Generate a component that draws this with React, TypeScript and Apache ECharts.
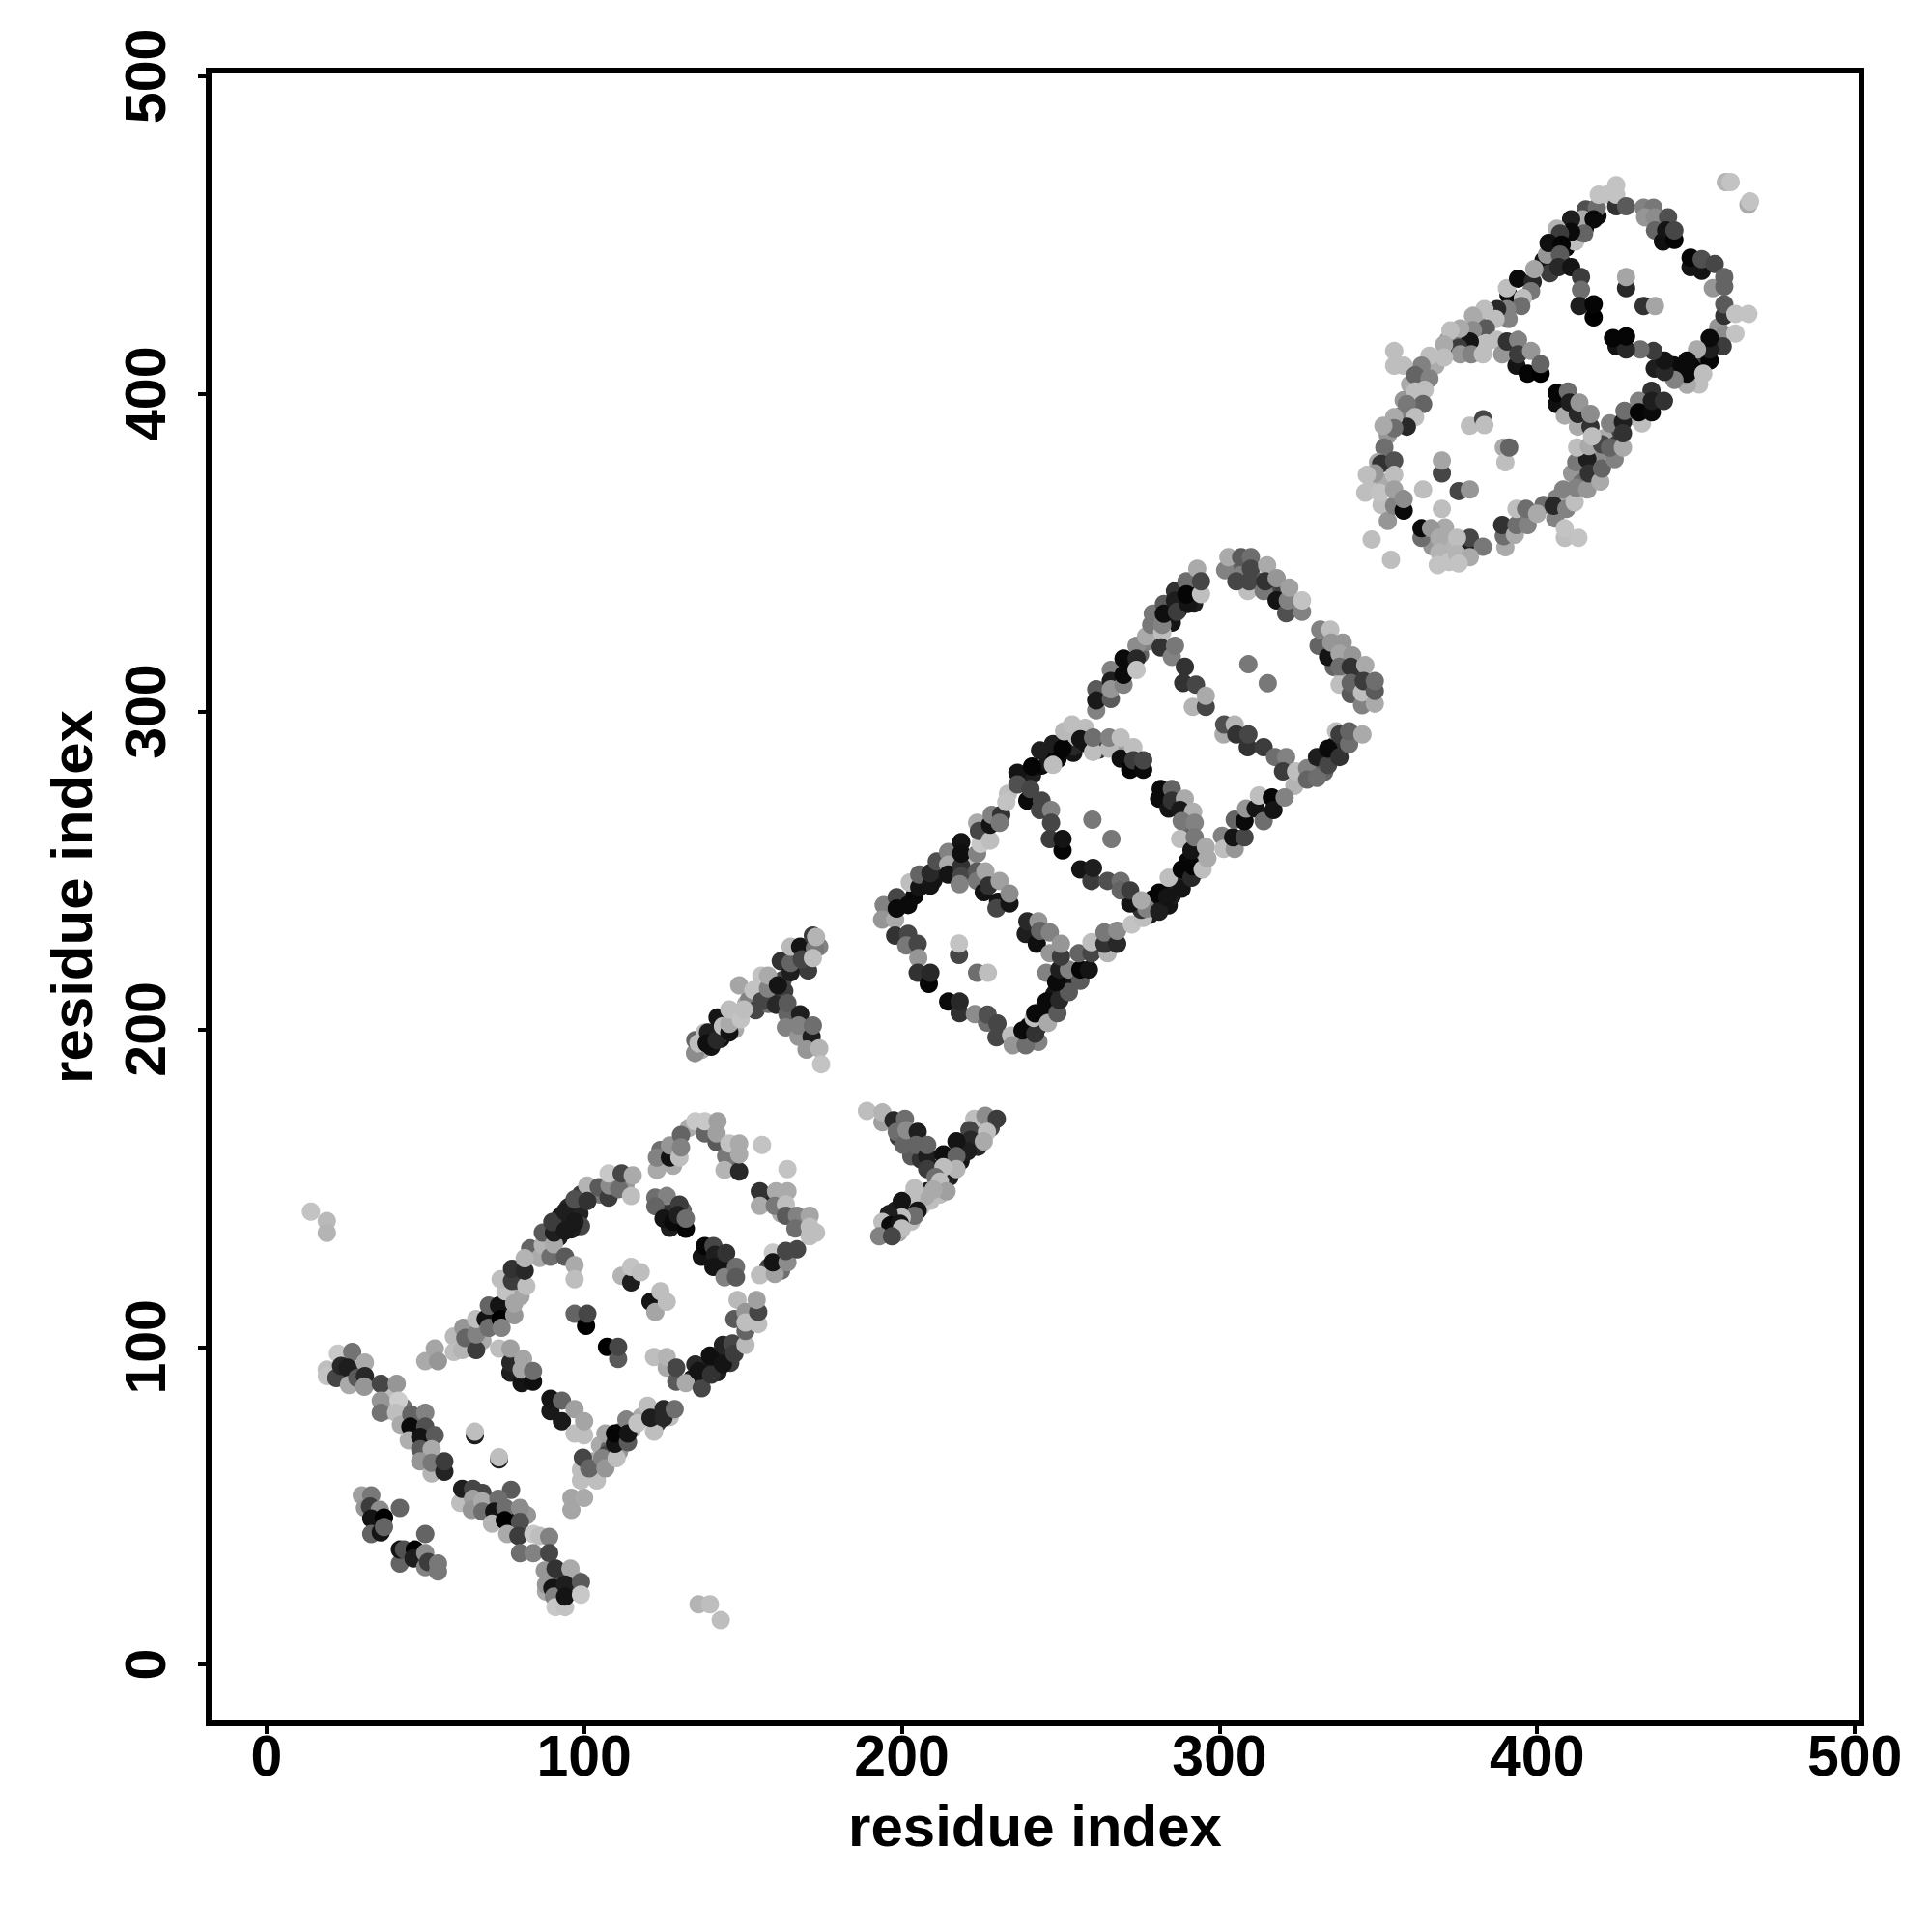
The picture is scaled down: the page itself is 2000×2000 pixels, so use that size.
import React, { useEffect, useRef } from "react";
import * as echarts from "echarts";

const tickValues = [0, 100, 200, 300, 400, 500];
const xTitle = "residue index";
const yTitle = "residue index";

// every contact: [residue i, residue j, grey level]
const outliers = [[14,142.6,195],[19,139.6,185],[19,135.9,180],[136,19,180],[139.6,19,190],[143,14,190],[156,163.6,195],[164,156,195]];
const crossArm = [[22.5,97.9,200],[19,92.9,190],[19,90.8,195],[27,98.4,115],[22,90.2,70],[23.5,94,40],[25.5,93.5,30],[31,95.1,170],[26,88,170],[28.6,90.2,90],[31,90.8,40],[30.8,87.5,150],
[36,88.4,70],[41,88.4,150],[36,83.1,150],[36,79.3,115],[41.6,83.1,205],[40.8,79.3,190],[42.3,75.5,170],[45.6,78.7,100],[50,79.3,130],[45.3,74.9,10],[50,74.9,80],[44.8,70.6,175],[48.4,71.7,20],[53,72.2,90],[48.4,67.8,90],[52,67.8,170],[48.4,64,150],[52,60.2,180],[52,63.5,120],[56,60.7,35],[56,64,60],
[61,50.9,190],[61.6,55.3,30],[65,55.3,70],[65,52.2,160],[64.6,48.7,150],[68,51.4,170],[68,48.2,110],[73,52.2,110],[71.7,48.2,20],[75.2,49.3,110],[79.8,49.3,140],[71,44.4,180],[75,45.4,0],[79.8,44.9,80],[75.8,41.1,170],[79.3,40.5,60],[84,41.1,200],[86,40.5,190],[89,40.2,130],[79.8,35.1,110],[84,35.1,130],[89,35.1,70],
[87.6,29.6,150],[88,25.2,150],[91,30.2,50],[95.7,30.2,170],[90,24.1,20],[90.5,21.4,130],[91,18.1,200],[94,18.1,195],[94,25.2,30],[94,21.4,20],[99,26,90],[99,22,200]];
const lowerCluster = [[30,53.3,160],[33,53.3,120],[31,49.3,150],[32.6,49.8,60],[35.7,48.7,140],[42,49.3,100],[33,46,20],[37,46.3,0],[33,41.1,100],[36,41.6,20],[37,43.3,100],[50,41.1,100],[42,31.8,100],[42,36.2,20],[43.3,36.2,80],[46.7,36.2,0],[46.3,33.4,30],[50,35.1,140],[50,30.7,130],[50.9,32.3,60],[54,29.3,120],[54,31.8,120]];
const ringOneUpper = [[50,95.5,170],[53,99.5,165],[54,95.5,150],[59,103.3,185],[59,98.4,190],[61.6,99,180],[62,106,150],[62.6,102.8,100],[66,99,60],[66,104,130],[66,108.8,190],[69,108.8,20],[70,113,100],[70,106,110],[73.2,113,20],[73.7,108.8,0],[74,106,130],[78,110,150],[75.2,117.5,195],[78,113.7,165],[73.7,121.3,190],[77.3,120.8,60],[77.3,124.6,50],[81.8,119.2,190],[81.3,124,40],[81.3,127.9,180],
[87,132,180],[87,136,90],[89.4,128.4,110],[90.5,132.3,170],[90.5,136,30],[90,139.3,60],[94,136.6,25],[94,142.6,30],[94,128.4,90],[97,139.3,25],[97,146.5,80],[97,125.7,170],[97,121.3,190],[101,150.8,180],[101,145.9,50],[104.6,150.3,90],[107.7,147,60],[108,150.8,140],[107.7,154.6,200],[111,149.7,110],[111.8,154.6,70],[115.3,154,170],[114.8,147.5,190],
[122.9,155.7,170],[122.9,159.6,130],[127,159.6,20],[127,163.4,150],[130,159.6,190],[130.5,166.7,100],[130.5,162.8,130],[135,171,200],[138,167.2,100],[138,171,200],[141.7,164.5,90],[142,171,160],[141.7,167.2,160],[144.7,160,120],[145.7,164,195],[148.8,164,170],[144.2,155.7,180],[148.8,155.2,40],[148.8,160.6,170]];
const ringOneInner = [[122.4,147,110],[126,147.5,130],[122.4,144.3,100],[125,140.4,20],[130,144.8,60],[128,139.4,10],[129.5,141.5,30],[132,137.2,5],[132,140.4,110],
[137,128.4,20],[138,131.7,5],[140.7,131.7,70],[141.2,129,30],[144.7,129.5,50],[140.7,125.2,20],[144.2,121.9,130],[147.8,125.2,110],[147.8,121.9,90],
[155.3,149,50],[160.4,149,170],[164,149,170],[155.3,144.4,170],[160,144.4,120],[163.5,144.9,190],[163.5,141.3,90],[167,141.3,130],[171,141.3,165],[166.5,137.3,110],[171,137.8,190],[171,134.8,190],
[155.3,122.6,190],[160,123,160],[159.4,129.7,200],[159.4,126.6,20],[164,126.6,140],[163.5,130.2,70],[167,130.7,70],
[65.6,72.2,30],[65.6,73.3,190],[73.2,64.6,30],[73.2,65.3,190],[97,110.4,100],[100.6,106.6,0],[101,110.4,70],[107.2,100,0],[110.7,96.2,90],[110.7,100,70],
[111.8,122.4,180],[114.8,120.3,30],[114.8,125.2,195],[117.8,123.5,190],[120.9,114.2,20],[122.4,111,165],[124,117.5,190],[126,114.2,190],
[73.2,99.5,190],[76.8,91.9,30],[76.8,95.1,40],[76.8,99.5,160],[80.8,96.2,165],[80.3,88.6,20],[80.3,92.9,165],[83.9,89.1,15],[83.9,92.4,110],
[89.4,79.8,25],[89.4,83.7,20],[93,76.6,25],[93,83.1,100],[97,80.4,160],[97,72.7,190],[100,72.2,190],[100,76.6,165]];
const ringOneLower = [[96,48.7,165],[96,52.5,165],[100,52.5,170],[99,58,190],[104,58,190],[99,61.3,190],[99.6,65.1,70],[101.6,61.8,100],[105.7,65,130],[106.7,61.8,150],[106.7,72.7,165],[110.2,65,190],[109.7,69.5,20],[109.7,72.7,5],[113.8,70,90],[113.3,77.1,130],[113.8,72.7,20],[116.8,76,195],[122,73.3,190],[120,81.5,190],[120.9,77.7,30],[125,77.7,40],[125,80.4,40],[128.5,80.4,110],
[122,96.8,190],[126,93.5,170],[126,96.8,180],[129,89.1,90],[129,93.5,70],[132,88.6,170],[137,87,70],[136,92.4,20],[140,91.3,50],[139.6,97.3,15],[143.7,94.6,20],[143.7,100.6,35],[146.7,101.1,70],[147.3,97.9,60],[150.8,100.6,185],[150.8,105,100],[147.3,108.8,90],[148.3,114.8,185],[150.8,111,150],[150.8,107.7,190],[154.8,107.2,190],[154.8,111,70],[154.3,114.8,160]];
const tBar = [[134.9,192.5,140],[135,196.6,100],[136,195.6,190],[138,199,190],[139,199,30],[138.6,195.6,15],[141.7,196.6,40],[142,203.7,20],[143.7,201,190],[145.7,199,20],[145.7,201.7,170],[145.7,206.2,190],[149.3,203.2,195],[150.3,206.2,190],[148.8,213.8,165],[153.3,212.3,195],[155.8,208.8,70],[155.8,216.9,195],[157.9,212.8,130],[157.9,216.9,170],[161,213.8,20],[161.9,221.4,50],[160.4,207.7,40],[165,217.9,30],[165,220.9,100],[165,226,185],[168,226,20],[168.5,222,70],[172,229.5,60],[172.6,225.5,120],[172,222.4,190],[173,229,180],
[164,204.7,100],[164,208.2,90],[168,204.7,30],[163.5,200.6,130],[167.5,197.6,150],[167.5,201.2,130],[171.6,197.6,30],[172,201.2,110],[170,193.6,150],[174,194,180],[174.6,189,195]];
const yFork = [[189,174.3,190],[193.9,170.7,160],[193.9,173.8,180],[197.4,171.3,40],[198.4,167.7,110],[201,171.8,110],[200.5,163.6,100],[201.5,168.2,140],[205,167.7,30],[204.5,163.6,100],[208,160,30],[208,163.6,100],[208,156,60],
[222.8,171.8,190],[226.3,172.8,140],[229.9,171.8,60],[221.3,168.2,70],[226.8,167.7,190],[221.7,165.2,40],[225.8,164.7,170],[220.7,161.6,30],[217.2,164.7,20],[213.1,160.6,15],[217.2,160.1,100],[217.2,156,180],[213.1,156.6,190],[210.6,153.5,110],[212,152,190],[214.1,149,160],[210,149.5,170],[207.5,147.4,170],[204,150,190],[203,147,190],[200,145.9,20],[205,142.9,20],[204,141.3,110],[200,140.8,190],[195.9,141.8,30],[193.9,139.3,190],[196.4,138.3,10],[199.4,138.8,20],[200,137.3,190],[192.9,134.8,130],[196.9,134.8,70]];
const ringTwoOuter = [[194.3,239.1,130],[193.8,234.5,150],[198.4,241.6,70],[197.9,234.5,170],[198.4,238,10],[202,239.1,10],[197.9,229.5,50],[202,230,70],[201.4,226.4,120],[205,226.9,70],[205.2,222.4,150],[205,217.8,50],[208.5,214.3,5],[209,217.8,40],[214.6,208.7,10],[218.2,205.1,50],[218.2,208.7,40],[223,204.8,140],[226.8,202.1,110],[227,204.6,80],[229.8,197.5,70],[230.1,201.8,70],[234.4,198,190],[234.9,195,150],[239,195,110],[238,199.6,10],[242,198.6,50],[241.5,203.6,190],[242,205,10],[245.5,208.7,10],[246,202,170],[249,205.1,90],[249.6,209.2,40],[252.6,211.7,90],
[245.5,217.8,130],[248.6,214.8,10],[249.6,218.8,30],[252.6,218.8,130],[256.2,215.3,90],[256.2,218.8,5],[258.9,218.8,20],[255.7,223.9,100],[259.7,223.9,70],[264.8,223.9,180],[259.7,227.4,190],[263.8,226.9,50],[263.8,230.5,120],[267.8,226.9,40],[267.8,231,140],[272.4,233,195],[276,235,190],[275.4,237.6,50],[277,238,130],[281,237,30],[281,243,5],[283.5,241.6,20],[288.1,244.2,20],[284,247.7,190],[288.1,250.3,5],[291.2,247.7,40],[291.7,251.3,5],
[202.5,246.2,190],[205.5,244.7,20],[205.5,248.7,100],[209,245.2,20],[209,249.2,40],[211,252.8,80],[214.6,255.8,130],[214.6,251.8,170],[214.6,248.7,20],[218.7,251.3,50],[218.7,248.2,70],[218.2,245.7,130],[218.7,258.9,20],[218.7,255.3,15],[223.7,249.7,90],[223.7,246.7,120],[223.7,255.3,130],[224.8,258.4,200],[223.7,265,170],[224.3,262.4,70],[227.8,259.4,190],[227.8,264.4,20],[228.3,267.5,130],[231.3,267.5,50],[230.8,265,120],[233.4,274.1,190],[232.9,271.5,195],[236.4,280.7,20],[236.4,277.1,80],[239.5,272,10],[240.5,275.6,70],[241,282.7,5],[243.5,287.8,30],[247.6,289.8,30],[247.6,283.2,190],[250.6,288.3,5],[251.1,293.8,185],[253.6,295.9,190],[257.7,294.9,190],[256.2,291.3,20],[260.2,287.3,190],[260.2,291.8,110],[265.3,288.3,185],[265.3,291.8,130],[268.9,291.8,190],[268.9,285.2,15],[271.9,281.7,5],[272.9,288.8,190],[272.9,284.7,60],[276,281.7,10],[276,284.7,70]];
const ringTwoInner = [[225.8,243.2,20],[226.3,249.7,165],[227.3,245.2,50],[230.3,240.1,20],[229.8,238.1,70],[230.8,246.7,160],[233.9,239.6,20],[233.9,242.7,140],
[239,230,30],[239.5,234,40],[242.5,226.9,15],[243,234,150],[243.5,231,100],[246.6,230.5,130],[246.6,223.9,150],[250.1,222.9,60],[250.1,226.9,150],
[218,223.4,70],[218,227,195],[223.7,217.8,110],[227.1,217.8,190],[260,266,120],[266,259.9,120],
[244,272,70],[243.5,269,70],[247,269,130],[247,265,70],[246.6,259.9,60],[250.6,256.3,5],[250.6,259.9,20],
[281,272.6,10],[281.5,275.6,10],[285,275.6,100],[284,269.5,20],[285,272,50],[289.1,272.6,170],[287.6,269,25],[291.7,268.5,175],[288.1,265.5,120],[292.2,265,130],[287.6,259.9,190],[291.2,256.3,20],[292.2,260.4,120],[295.7,257.4,170],[294.7,250.3,190],[296.2,253.8,170],
[256.2,250.3,20],[259.7,246.7,60],[260.2,250.8,30],[264.8,246.7,80],[268.9,246.7,110],[271.9,239.6,20],[268.9,243.7,100],[271.9,243.7,60],[275.4,240.6,170]];
const ringThreeOuter = [[261.2,300.4,130],[261.2,307,90],[261.2,303.5,25],[265.8,304,90],[265.8,313.1,130],[265.8,309.6,30],[265.8,307,150],[269.8,308.5,130],[269.8,316.7,10],[269.8,311.6,10],[273.9,320.7,140],[273.9,316.7,40],[273.9,313.1,195],[276.9,323.7,170],[279,330.8,120],[278.5,327.3,120],[282,324.8,190],[282,327.3,130],[282.5,333.9,90],[282.5,330.8,15],[286,337.9,50],[286,334.9,30],[286.6,331.4,60],[289.6,341,110],[290.1,333.9,20],[289.6,336.9,5],[293,345,170],[294.2,337,190],[294.2,341,70],
[301.8,344.5,130],[302.8,348.6,170],[306.8,348.6,90],[309.9,348.6,110],[308.9,338,190],[305.3,341,70],[309.4,341,70],[309.9,345,70],[315,346,170],[313.9,338,120],[314.4,341,50],[318,335,20],[318,342,150],[321,331,80],[321.5,335,130],[322,339,160],[326,331.4,130],[326,335,195],
[331.2,320.7,100],[331.7,325.8,130],[334.9,325.8,190],[334.2,317.2,20],[335.2,321.7,150],[338.8,321.7,150],[337.8,318.2,165],[341.8,317.7,150],[337.8,314.1,110],[341.3,314.1,50],[345.9,314.6,170],[337.8,308.5,190],[341.3,305.5,90],[341.3,309,100],[344.9,302,130],[344.9,306,190],[345.4,309.6,60],[348.9,302.5,170],[348.9,306.5,90],[348.9,309.6,110]];
const ringThreeInner = [[281.5,320.2,50],[285,317.2,130],[286,320.7,120],[289.1,314.1,50],[288.6,309,50],[291.6,301.5,180],[292.6,308.5,70],[295.7,301.5,70],[295.7,305,170],[309.1,314.9,120],[315.2,308.9,120],
[301.3,292.8,170],[301.5,295.9,80],[304.8,295.9,180],[305.3,292.8,50],[308.9,288.8,50],[309.1,292.8,70],[313.9,288.8,60],[317.5,285.7,110],[321,285.7,130],[320,281.2,60],[323.6,276.6,180],[324.1,281.2,190],[327.6,282.2,130],[327.6,278.6,100],[330.7,279.1,110],[330.7,285.7,30],[334.2,283.2,70],[334.2,288.3,10],[337.8,285.7,50],[336.7,293.8,190],[337.8,292.8,60],[340.8,289.8,110],[340.8,293.8,100],[345,292.8,170],
[300.8,260.9,130],[301.3,256.8,190],[304.8,256.8,150],[304.3,260.4,20],[307.9,260.4,70],[304.8,266,100],[307.9,265.5,10],[308.4,269.5,150],[311.4,269.5,20],[312.4,273.6,190],[313.9,265.5,110],[316.5,273,5],[317,269,20],[320.5,273,130]];
const ringFourTop = [[459.4,466.7,180],[460.9,466.7,195],[466.5,459.6,170],[467,460.6,195],
[415.3,458.1,80],[418.8,458.6,110],[419.4,462.7,195],[421.9,462.7,195],[424.9,459.1,50],[424.9,462.7,195],[424.9,465.7,195],[428,459.1,90],[433.5,458.6,130],[436.6,458.6,120],[434,455.6,150],[437.1,455.6,140],[414.3,455,170],[417.8,455,10],[410.7,455,30],[414.8,450.5,100],[410.7,451,10],[406.2,452,180],[407.2,450.5,60],[403.1,443.9,150],[403.6,447.5,15],[407.7,447,5],[407.2,443.9,90],
[441.2,455.6,80],[437.1,451.5,100],[439.6,448,15],[440.6,451.5,20],[443.2,448.5,5],[443.2,451.5,70],
[406.7,439.9,40],[410.7,439.9,20],[413.8,436.8,60],[413.8,432.8,110],[413.3,427.7,30],[417.8,424.1,0],[417.8,428.2,5],[428,433.3,40],[428,436.8,165],[433.5,427.7,50],[437.1,427.7,165],
[448.3,439.9,20],[448.3,442.9,5],[451.8,438.8,20],[451.8,442.4,80],[455.9,440.9,70],[455.3,433.3,150],[458.9,433.8,100],[458.9,436.8,100],[458.9,424.6,50],[458.9,428.2,90],[462.4,425.2,195],[466.5,425.2,195],[458.9,418.6,140],[462.4,419,195],
[458.4,415,60],[454.3,410.5,5],[454.3,414,30],[454.3,417.6,10],[450.3,414,170],[447.2,402.9,170],[447.2,406.4,10],[447.2,410.5,10],[452.3,406.4,190],[443.2,404.4,130],[440.1,406.9,40],[440.1,410.5,20],[436.6,413.5,60],[432.5,414,110],[428,414,40],[428,418.1,5],[423.9,417.6,5]];
const ringFourBand = [[391,431.2,10],[390.5,433.3,190],[394,436.3,10],[398.6,435.3,40],[399.1,439.3,165],[398.1,432.3,120],[395.5,430.2,190],[395,427.7,110],[390.5,426.7,130],[391,423.6,130],[387.4,426.7,40],[383.4,426.7,190],[386.9,423.6,190],[383.9,420.6,90],[379.8,424.6,170],[383.9,416,190],[379.8,420.1,140],[378.8,416.5,20],[375.8,420.6,170],[372.7,420,190],[375.3,414.5,60],[375.8,412.5,150],[379.3,412.5,130],[382.9,412.5,190],[370.7,415.5,170],[370.7,411.5,190],[366.1,412,190],[363.6,408.9,130],[355,413.5,190],[355,408.9,190],[358,408.9,190],[361.6,405.9,100],[366.1,404.9,130],[364.6,401.3,190],[361.6,400.8,190],[364.1,396.8,100],[359,396.8,120],[361.6,392.7,190],[359,389.7,40],[355,392.7,170],[355,389.2,110],[351.6,390,170],
[351.9,383.1,110],[349.9,378.5,170],[350.9,378,50],[355,379,80],[348.9,375,150],[355,374.5,190],[346.4,374.5,190],[345.9,368.9,190],[350.4,368.9,195],[355,364.8,130],[358,363.3,10],[355,369.9,160],[358,366.9,140],[347.9,354.2,190],[354,347.8,190],
[363.6,354.7,110],[363.6,357.7,10],[366.6,357.7,150],[369.2,354.7,170],[369.2,350.1,180],[368.7,346.1,195],[372.2,347.1,195],[378.8,351.2,30],[378.8,354.7,70],[374.8,354.7,190],[374.8,349.6,180],[382.9,351.9,120],[378.8,348.6,170],[375.3,346.6,195],
[370,375,70],[370,379,165],[364.1,369.9,190],[370,363.8,190],[375.3,369.4,70],[378.8,369.9,150],[378.8,390,190],[383,392,70],[383.4,390.2,190],[389.5,383.1,170],[390,378.5,190],[391.2,383.1,100]];
const ringFourLower = [[390,351.7,170],[389.5,355.2,110],[389,358.7,50],[393,355.7,170],[393.5,358.7,110],[393.5,363.8,190],[397,358.7,130],[396.5,363.8,110],[400,362.3,170],[405.7,360.8,130],[405.2,364.8,40],[409.2,363.8,130],[408.2,369.9,130],[411.8,365.9,190],[412.3,370.4,130],[415.8,369.9,150],[408.7,354.7,190],[408.7,357.7,195],[413,354.7,195],
[412.3,378.5,120],[415.8,379.5,30],[416.3,375,50],[419.9,372.4,170],[420.4,376.5,100],[424.4,379.5,130],[412.6,383.1,190],[416.3,383.6,170],[420.4,384.1,70],[422.9,383.1,100],[427,383.1,170],[422.9,390.7,130],[427,391.2,30],[427,387.6,50],[427.5,394.7,110],[433,390.7,190],[432,397.8,130],[432,394.2,5],[436.1,394.2,10],[436.1,397.8,30],[439.9,397.8,50],
[387.4,417,190],[389,412.5,150],[390.5,416.5,50],[394,417,130],[393.5,408.9,20],[394,412.5,60],[398.1,413.5,150],[397,406.4,5],[401.1,406.4,0],[401.1,409.4,100],
[406.2,396.8,15],[406.2,400.3,5],[409.7,400.8,110],[408.7,393.2,170],[410.2,397.3,30],[412.8,389.7,170],[412.8,393.7,40],[413.3,397.3,150],[416.8,389.7,50],[416.8,393.7,140],[417.3,386.6,190]];

// contacts mostly hidden under the ones above, thickening the bands
const underTFork = [[137,193.5,170],[140,194.5,20],[141,198,190],[143,197,20],[144,199,190],[146,203.5,20],[147.5,200,170],[148,205,60],[151,208,170],[152,209.5,130],[154,206,70],[156,211,160],[158,208,110],[159,215,130],[160,211,40],[162.5,215.5,70],[163,212,60],[166,223,60],[170,220,90],[174,226,130],[170.5,218.5,60],
[197,140,190],[198,143,30],[199,136,170],[202,143.5,20],[203,139.5,190],[206,146,30],[206,144,190],[208,149,30],[209,146,190],[211,156,30],[212,148,190],[215,153.5,30],[216,158,170],[218.5,158.5,20],[219.5,163,170],[223,168.5,100],[224,163,40],[228,169,70],[203,160,90],[206,159,50],[199,166,60]];
const underRingOne = [[92,138,20],[92.5,141,25],[95.5,140,30],[95,144,40],[98.5,142,35],[99,138,70],[92,134.5,30],[96,137,30],[134,90,30],[137,90,20],[139,94,25],[142,92,30],[142,96,20],[145,98,30],[146,95,60],[135,94.5,40],
[105,69,170],[108,68,100],[103,64,170],[107,66,70],[111,73,60],[111,67,150],[115,74,170],[118,78,170],[123,76,60],[127,78,190],[24,91,150],[27,93,200],[29,92,60],[39,85,190],[43,81,110],[47,76,130],[38,80,170],[51,70,120],[68,54,70],[70,49,140],[77,55,90],[78,46,20],[82,47,150],[88,23,170],[92,27,70],[96,23,130],[97,27,180],[92,23,40],
[64,101,150],[68,102,170],[72,110,60],[76,113,130],[80,116,165],[79,121,50],[83,131,100],[86,128,170],[99,148,60],[105,148,120],[110,153,60],[113,151,150],[124,162,110],[128,157,170],[133,169,170],[140,168,160],[147,162,150],[146,158,110],
[126,143,50],[131,143,100],[127,137.5,30],[146,123,100],[143,127,20],[139,129,60],[158,125,70],[162,124,110],[157,146,40],[162,142,170],[169,139,120],[173,136,190]];
const underRingTwo = [[200,240,5],[204,242,10],[207,246,15],[210,247,20],[212,250,25],[216,253,30],[221,252,190],[206,247,170],[239,279,15],[241,280,30],[244,283,10],[245,286,190],[246,284,25],[249,285,10],[252,290,15],[254,287,20],[254,289,40],[248,286.5,5],
[240,201,10],[243,201,30],[244,206,190],[245,204,5],[247,206,10],[248,211,20],[250,213,30],[252,215,20],[237,197,170],[243,196,130],[278,236,30],[282,240,15],[284,239,20],[286,245,10],[288,247,40],[290,253,10],[293,250,25],[279,241,10],[285,242,30],
[255,292,190],[258,290,20],[262,288,60],[270,288,160],[274,283,50],[258,292,150],[283,273,70],[287,271,50],[290,261,100],[294,255,150],[293,257,170]];
const underRingThree = [[283,329,30],[285,328,20],[287,332,10],[288,336,40],[291,337,20],[292,334,30],[284,332,90],[331,283,40],[333,286,30],[336,289,20],[338,289,50],[333,281,100],
[275,318,100],[271,314,60],[268,310,40],[263,306,100],[277,322,130],[304,345,100],[307,343,130],[312,341,110],[316,338,70],[320,337,60],[324,333,150],[336,314,100],[343,311,60],[347,306,140],[339,311,170],[346,304,70]];
const underRingFour = [[402,442,20],[405,446,170],[409,446,10],[412,448,190],[412,453,20],[415,452,5],[419,456,10],[408,441,50],[404,438,60],[436,401,50],[445,406,170],[449,409,20],[451,403,190],[450,411,5],[453,412,60],[456,416,30],[457,421,150],[443,409,10],[437,408,30],[425,415,20],
[372,417,150],[377,418,120],[381,423,160],[368,409,170],[360,403,170],[358,398,150],[363,403,150],[357,393,130],[353,387,150],[348,371,190],[352,372,170],[351,365,190],[353,360,150],[372,352,180],[370,349,190],[376,352,190],[367,352,150],[371,358,170],
[395,361,130],[402,365,110],[406,367,130],[410,367,170],[418,378,80],[419,381,140],[424,387,70],[421,386,170],[430,393,170],[425,384,60],[434,396,5],[411,375,150],[414,372,110]];

const contacts = [underTFork, underRingOne, underRingTwo, underRingThree, underRingFour, outliers, lowerCluster, crossArm, ringOneUpper, ringOneLower, ringOneInner, tBar, yFork, ringTwoOuter, ringTwoInner, ringThreeOuter, ringThreeInner, ringFourBand, ringFourLower, ringFourTop];

const font = "'Liberation Sans', Arial, sans-serif";

export default function App() {
  const ref = useRef<HTMLDivElement>(null);
  useEffect(() => {
    const chart = echarts.init(ref.current!, null, { renderer: "svg" });
    const axisCommon = {
      type: "value",
      nameLocation: "middle",
      nameTextStyle: { fontFamily: font, fontWeight: "bold", fontSize: 60, color: "#000" },
      splitLine: { show: false },
      axisLine: { show: false, onZero: false },
      axisTick: { show: true, length: 11, lineStyle: { color: "#000", width: 4 }, customValues: tickValues },
    };
    const labelCommon = { show: true, customValues: tickValues, fontFamily: font, fontWeight: "bold", fontSize: 59, color: "#000" };
    chart.setOption({
      animation: false,
      backgroundColor: "#fff",
      grid: { show: true, left: 216, top: 73, width: 1711, height: 1711, borderColor: "#000", borderWidth: 6, backgroundColor: "transparent" },
      xAxis: { ...axisCommon, min: -18.2, max: 502.1, name: xTitle, nameGap: 76, axisLabel: { ...labelCommon, margin: 4 } },
      yAxis: { ...axisCommon, min: -18.5, max: 501.8, name: yTitle, nameGap: 112, axisLabel: { ...labelCommon, rotate: 90, margin: 36 } },
      series: [{
        type: "scatter",
        symbol: "circle",
        symbolSize: 19,
        silent: true,
        itemStyle: { opacity: 1 },
        data: contacts.flat().map(([x, y, g]) => ({ value: [x, y], itemStyle: { color: `rgb(${g},${g},${g})`, opacity: 1 } })),
      }],
    });
    return () => chart.dispose();
  }, []);
  return <div ref={ref} style={{ position: "absolute", left: 0, top: 0, width: 2000, height: 2000 }} />;
}
